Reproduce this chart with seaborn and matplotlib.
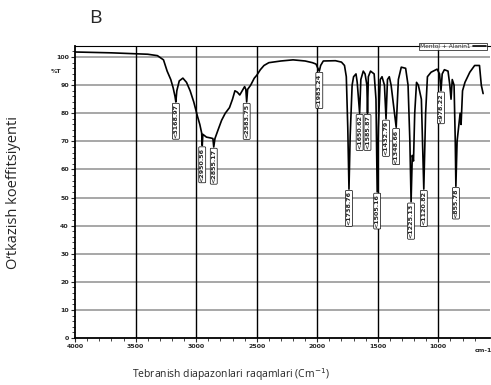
import matplotlib
matplotlib.use("Agg")
import matplotlib.pyplot as plt
import seaborn as sns
import pandas as pd
import numpy as np

# spectrum (wavenumber cm-1, %T)
wavenumber = [4000, 3700, 3400, 3320, 3270, 3240, 3210, 3190, 3175, 3168, 3160, 3140, 3110,
              3080, 3050, 3020, 2990, 2970, 2955, 2950, 2945, 2915, 2880, 2862, 2855, 2845,
              2820, 2790, 2760, 2725, 2700, 2680, 2660, 2640, 2620, 2600, 2590, 2583, 2575,
              2550, 2520, 2500, 2470, 2440, 2400, 2300, 2200, 2100, 2040, 2010, 1995, 1983,
              1972, 1950, 1850, 1800, 1775, 1760, 1748, 1738, 1728, 1712, 1700, 1680, 1670,
              1650, 1640, 1620, 1605, 1590, 1585, 1578, 1560, 1530, 1515, 1505, 1495, 1480,
              1465, 1445, 1432, 1420, 1405, 1390, 1348, 1330, 1306, 1270, 1250, 1235, 1225,
              1215, 1205, 1195, 1180, 1165, 1140, 1120, 1105, 1090, 1060, 1010, 990, 978,
              968, 950, 920, 905, 895, 885, 870, 860, 855, 845, 820, 812, 800, 780, 740,
              700, 660, 645, 630]
transmit = [101.8, 101.5, 101.0, 100.5, 99.0, 95.0, 92.0, 89.0, 86.0, 84.0, 88.0, 91.5, 92.5,
            91.0, 88.0, 84.0, 79.0, 76.0, 73.0, 68.5, 72.5, 71.5, 71.2, 71.0, 68.0, 71.0,
            74.0, 77.5, 80.0, 82.0, 85.0, 88.0, 87.5, 86.5, 88.0, 89.5, 88.5, 84.0, 88.5,
            90.0, 92.5, 93.5, 95.5, 97.0, 98.0, 98.6, 99.0, 98.6, 98.0, 97.5, 96.0, 95.0,
            97.0, 98.6, 98.7, 98.2, 97.0, 93.0, 75.0, 53.0, 72.0, 90.0, 93.0, 94.0, 91.0,
            80.0, 92.0, 95.0, 94.0, 90.0, 80.0, 93.0, 95.0, 94.0, 85.0, 52.0, 75.0, 92.0,
            93.0, 90.0, 78.0, 92.0, 93.0, 90.0, 75.0, 92.0, 96.4, 96.0, 90.0, 70.0, 48.5,
            65.0, 63.0, 80.0, 91.0, 90.0, 85.0, 53.0, 80.0, 93.0, 94.6, 95.7, 94.0, 88.0,
            94.0, 95.5, 95.0, 90.0, 85.0, 92.0, 90.0, 70.0, 54.0, 70.0, 80.0, 76.0, 88.0,
            91.0, 94.6, 97.0, 97.0, 90.0, 87.0]

# labelled peaks
peak_pos = [3168, 2950, 2855, 2583, 1983, 1738, 1650, 1585, 1505, 1432, 1348, 1225, 1120, 978, 855]
peak_T = [84.0, 68.5, 68.0, 84.0, 95.0, 53.0, 80.0, 80.0, 52.0, 78.0, 75.0, 48.5, 53.0, 88.0, 54.0]
peak_txt = ["3168.97", "2950.56", "2855.17", "2583.75", "1983.24", "1738.76", "1650.62",
            "1585.87", "1505.16", "1432.79", "1348.66", "1225.13", "1120.82", "978.22", "855.78"]

df = pd.DataFrame({"wn": wavenumber, "T": transmit})

sns.set_style("white")
fig = plt.figure(figsize=(4.91, 3.85), dpi=100)
ax = fig.add_axes([0.153, 0.122, 0.845, 0.759])

# grid
for v in range(10, 101, 10):
    ax.axhline(v, color="#a0a0a0", lw=1.3, zorder=1)
for v in [3500, 3000, 2500, 2000, 1500, 1000]:
    ax.axvline(v, color="black", lw=1.0, zorder=1)

sns.lineplot(data=df, x="wn", y="T", sort=False, color="black", lw=1.2, ax=ax,
             label="Mentol + Alanin1", zorder=3)

for x, y, t in zip(peak_pos, peak_T, peak_txt):
    ax.text(x, y - 0.8, "<" + t, rotation=90, ha="center", va="top", fontsize=4.6,
            fontweight="bold", zorder=4,
            bbox=dict(boxstyle="round,pad=0.15", fc="white", ec="black", lw=0.5))

ax.set_xlim(4000, 573)
ax.set_ylim(0, 104)
ax.set_xticks([4000, 3500, 3000, 2500, 2000, 1500, 1000])
ax.set_xticks(np.arange(3900, 600, -100), minor=True)
ax.set_yticks(range(0, 101, 10))
ax.set_yticks(range(0, 104, 2), minor=True)
ax.tick_params(axis="both", which="major", labelsize=4.5, length=3, width=0.8, pad=1.5,
               direction="out", left=True, bottom=True)
ax.tick_params(axis="both", which="minor", length=2, width=0.6, direction="out",
               left=True, bottom=True)
for lab in ax.get_xticklabels() + ax.get_yticklabels():
    lab.set_fontweight("bold")
ax.set_xlabel("")
ax.set_ylabel("")
for s in ["left", "bottom"]:
    ax.spines[s].set_linewidth(1.3)
    ax.spines[s].set_color("black")
ax.spines["top"].set_linewidth(0.8)
ax.spines["top"].set_color("black")
ax.spines["right"].set_visible(False)

ax.text(-0.045, 95, "%T", transform=ax.get_yaxis_transform(), ha="center", va="center",
        fontsize=4.5, fontweight="bold")
ax.text(0.985, -0.035, "cm-1", transform=ax.transAxes, ha="center", va="top",
        fontsize=4.5, fontweight="bold")

leg = ax.legend(loc="upper right", bbox_to_anchor=(1.0, 1.02), fontsize=4.2, markerfirst=False,
                frameon=True, fancybox=False, edgecolor="black", handlelength=2.2,
                borderpad=0.15, handletextpad=0.5)
leg.get_frame().set_linewidth(0.6)

fig.text(0.195, 0.952, "B", fontsize=14, family="Open Sans", ha="center", va="center")
fig.text(0.028, 0.50, "O‘tkazish koeffitsiyenti", rotation=90, fontsize=10.5,
         family="Open Sans", ha="center", va="center")
fig.text(0.47, 0.004, "Tebranish diapazonlari raqamlari (Cm$^{-1}$)", fontsize=7.5,
         family="Open Sans", ha="center", va="bottom")

fig.savefig("out.png", dpi=100)
